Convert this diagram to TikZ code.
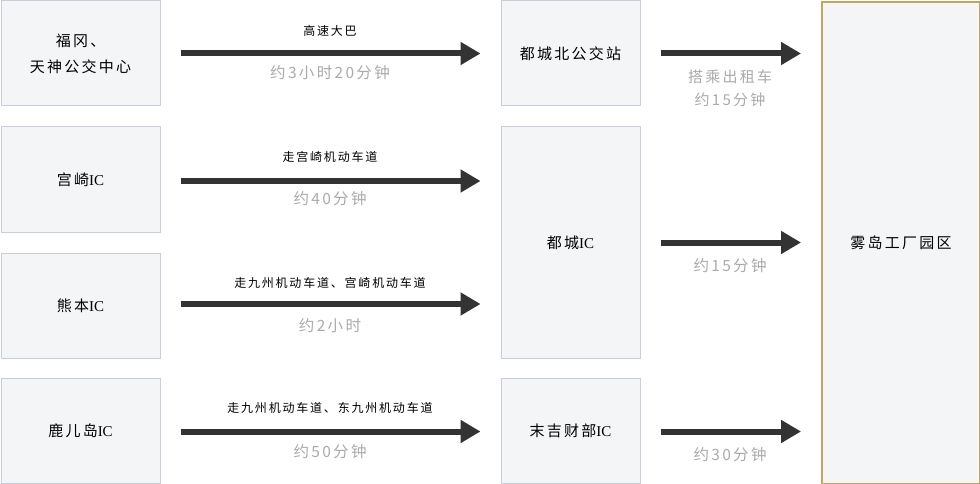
\documentclass[tikz,border=0pt]{standalone}
\usepackage{fontspec}
\setmainfont{Noto Sans CJK SC}[LetterSpace=15]
\newfontfamily\latserif{Liberation Serif}
\usetikzlibrary{arrows.meta}
\definecolor{boxfill}{HTML}{F4F5F7}
\definecolor{boxline}{HTML}{C9CCD9}
\definecolor{goldline}{HTML}{C4A463}
\definecolor{arrcol}{HTML}{333333}
\definecolor{graytxt}{HTML}{AAAAAA}
\tikzset{
  x=1pt,y=-1pt,
  place/.style={draw=boxline,fill=boxfill,line width=1pt,inner sep=0pt,anchor=north west,align=center,font=\fontsize{15}{26}\selectfont,text=black},
  goal/.style={draw=goldline,fill=boxfill,line width=2pt,inner sep=0pt,anchor=north west,align=center,font=\fontsize{15}{26}\selectfont},
  arr/.style={draw=arrcol,line width=6pt,-{Triangle[length=20pt,width=22pt]}},
  toplbl/.style={font=\fontsize{12}{14}\selectfont,text=black},
  graylbl/.style={font=\fontsize{15.5}{23}\selectfont,text=graytxt,align=center},
  graysm/.style={font=\fontsize{15}{23}\selectfont,text=graytxt,align=center}
}
\begin{document}
\begin{tikzpicture}
\useasboundingbox (0,0) rectangle (980,484);
% left column
\node[place,minimum width=159pt,minimum height=105pt] (fk) at (0.5,0.5) {福冈、\\天神公交中心};
\node[place,minimum width=159pt,minimum height=105pt] (mz) at (0.5,126.5) {宫崎{\latserif IC}};
\node[place,minimum width=159pt,minimum height=105pt] (km) at (0.5,252.5) {熊本{\latserif IC}};
\node[place,minimum width=159pt,minimum height=105pt] (kg) at (0.5,378) {鹿儿岛{\latserif IC}};
% middle column
\node[place,minimum width=139pt,minimum height=105pt] (mkb) at (500.5,0.5) {都城北公交站};
\node[place,minimum width=139pt,minimum height=231pt] (mic) at (500.5,126.5) {都城{\latserif IC}};
\node[place,minimum width=139pt,minimum height=105pt] (sic) at (500.5,378) {末吉财部{\latserif IC}};
% goal
\node[goal,minimum width=158pt,minimum height=482pt] (kr) at (821,1) {雾岛工厂园区};
% left arrows
\draw[arr] ([xshift=20pt]fk.east) -- ([xshift=-20pt]fk.east -| mkb.west);
\draw[arr] ([xshift=20pt,yshift=-1.5pt]mz.east) coordinate (a2s) -- ([xshift=-20pt]a2s -| mic.west) coordinate (a2e);
\draw[arr] ([xshift=20pt,yshift=1.5pt]km.east) coordinate (a3s) -- ([xshift=-20pt]a3s -| mic.west) coordinate (a3e);
\draw[arr] ([xshift=20pt,yshift=-0.5pt]kg.east) -- ([xshift=-20pt,yshift=-0.5pt]kg.east -| sic.west);
% right arrows
\draw[arr] ([xshift=20pt]mkb.east) -- ([xshift=-20pt]mkb.east -| kr.west);
\draw[arr] ([xshift=20pt]mic.east) -- ([xshift=-20pt]mic.east -| kr.west);
\draw[arr] ([xshift=20pt,yshift=-0.5pt]sic.east) -- ([xshift=-20pt,yshift=-0.5pt]sic.east -| kr.west);
% labels left
\node[toplbl] (t1) at (330,31) {高速大巴};
\node[graylbl] (g1) at (330,73) {约3小时20分钟};
\node[toplbl] (t2) at (330,157) {走宫崎机动车道};
\node[graylbl] (g2) at (330,199) {约40分钟};
\node[toplbl] (t3) at (330,283) {走九州机动车道、宫崎机动车道};
\node[graylbl] (g3) at (330,326) {约2小时};
\node[toplbl] (t4) at (330,408) {走九州机动车道、东九州机动车道};
\node[graylbl] (g4) at (330,452) {约50分钟};
% labels right
\node[graysm] (r1) at (730,88) {搭乘出租车\\约15分钟};
\node[graylbl] (r2) at (730,266) {约15分钟};
\node[graylbl] (r3) at (730,455) {约30分钟};
\end{tikzpicture}
\end{document}
